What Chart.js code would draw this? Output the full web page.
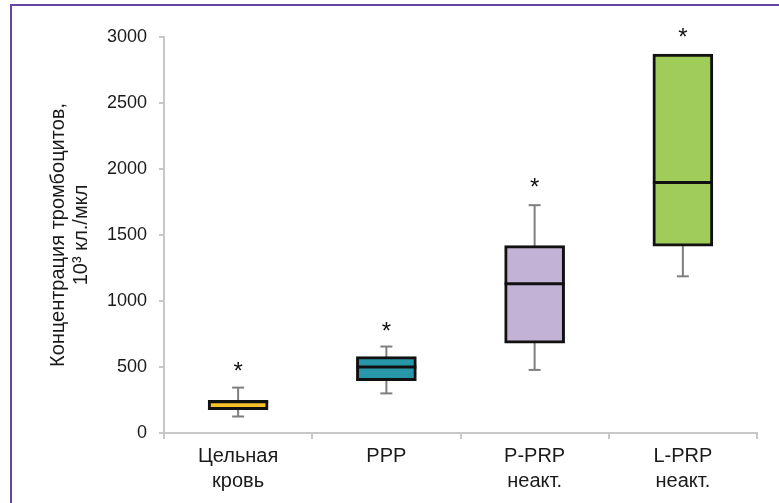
<!DOCTYPE html>
<html lang="ru">
<head>
    <meta charset="UTF-8">
    <title>Концентрация тромбоцитов</title>
    <script src="https://cdn.jsdelivr.net/npm/chart.js"></script>
    <style>
        body {
            margin: 0;
            padding: 0;
            background: #ffffff;
            font-family: "Liberation Sans", Arial, sans-serif;
        }
        .wrap {
            position: relative;
            width: 779px;
            height: 503px;
            overflow: hidden;
        }
        .frame {
            position: absolute;
            left: 10px;
            top: 4px;
            width: 780px;
            height: 520px;
            border-left: 2px solid #6b44a3;
            border-top: 2px solid #6b44a3;
            pointer-events: none;
        }
    </style>
</head>
<body>
<div class="wrap">
    <canvas id="boxChart" width="779" height="503"></canvas>
    <div class="frame"></div>
</div>

<script>
    // categories and box statistics
    const categories = [['Цельная', 'кровь'], 'PPP', ['P-PRP', 'неакт.'], ['L-PRP', 'неакт.']];
    const whiskerLow = [125, 300, 478, 1187];
    const q1 = [176, 396, 681, 1415];
    const median = [236, 500, 1131, 1898];
    const q3 = [248, 579, 1420, 2870];
    const whiskerHigh = [344, 655, 1726, 2870];
    const starLevel = [490, 790, 1883, 3020];
    const yTicks = [0, 500, 1000, 1500, 2000, 2500, 3000];
    const boxColors = ['#f6c22c', '#2897a9', '#c2b3d6', '#a0cd5a'];

    const boxes = categories.map((c, i) => [q1[i], q3[i]]);

    // whiskers behind the boxes, medians and stars on top
    const boxPlotExtras = {
        id: 'boxPlotExtras',
        beforeDatasetsDraw(chart) {
            const ctx = chart.ctx;
            const x = chart.scales.x, y = chart.scales.y;
            ctx.save();
            ctx.strokeStyle = '#7f7f7f';
            ctx.lineWidth = 2;
            categories.forEach((c, i) => {
                const cx = x.getPixelForValue(i);
                ctx.beginPath();
                ctx.moveTo(cx, y.getPixelForValue(whiskerLow[i]));
                ctx.lineTo(cx, y.getPixelForValue(whiskerHigh[i]));
                ctx.stroke();
                [whiskerLow[i], whiskerHigh[i]].forEach(v => {
                    if (v >= q1[i] && v <= q3[i]) return;
                    const py = y.getPixelForValue(v);
                    ctx.beginPath();
                    ctx.moveTo(cx - 6, py);
                    ctx.lineTo(cx + 6, py);
                    ctx.stroke();
                });
            });
            ctx.restore();
        },
        afterDatasetsDraw(chart) {
            const ctx = chart.ctx;
            const x = chart.scales.x, y = chart.scales.y;
            const meta = chart.getDatasetMeta(0);
            ctx.save();
            categories.forEach((c, i) => {
                const bar = meta.data[i];
                const half = bar.width / 2;
                const cx = x.getPixelForValue(i);
                const my = y.getPixelForValue(median[i]);
                ctx.strokeStyle = '#111111';
                ctx.lineWidth = 3;
                ctx.beginPath();
                ctx.moveTo(cx - half, my);
                ctx.lineTo(cx + half, my);
                ctx.stroke();

                ctx.fillStyle = '#111111';
                ctx.font = '24px "Liberation Sans", Arial, sans-serif';
                ctx.textAlign = 'center';
                ctx.textBaseline = 'middle';
                ctx.fillText('*', cx, y.getPixelForValue(starLevel[i]) + 4);
            });
            ctx.restore();
        }
    };

    function initializeChart() {
        const ctx = document.getElementById('boxChart').getContext('2d');
        new Chart(ctx, {
            type: 'bar',
            data: {
                labels: categories,
                datasets: [{
                    data: boxes,
                    backgroundColor: boxColors,
                    borderColor: '#111111',
                    borderWidth: 3,
                    borderSkipped: false,
                    barThickness: 60
                }]
            },
            options: {
                responsive: false,
                animation: false,
                layout: {
                    padding: { top: 37, right: 22, bottom: 0, left: 0 }
                },
                plugins: {
                    legend: { display: false },
                    tooltip: { enabled: false }
                },
                scales: {
                    x: {
                        grid: {
                            offset: true,
                            drawOnChartArea: false,
                            tickLength: 6,
                            color: '#c8c8c8',
                            lineWidth: 2
                        },
                        border: { color: '#c8c8c8', width: 2 },
                        ticks: {
                            color: '#1a1a1a',
                            padding: 5,
                            maxRotation: 0,
                            font: { family: '"Liberation Sans", Arial, sans-serif', size: 20, lineHeight: 1.25 }
                        },
                        afterFit(scale) { scale.height = 70; }
                    },
                    y: {
                        min: 0,
                        max: 3000,
                        afterBuildTicks(scale) {
                            scale.ticks = yTicks.map(v => ({ value: v }));
                        },
                        grid: {
                            drawOnChartArea: false,
                            tickLength: 5,
                            color: '#c8c8c8',
                            lineWidth: 2
                        },
                        border: { color: '#c8c8c8', width: 2 },
                        ticks: {
                            color: '#1a1a1a',
                            padding: 12,
                            callback: v => String(v),
                            font: { family: '"Liberation Sans", Arial, sans-serif', size: 18 }
                        },
                        title: {
                            display: true,
                            text: ['Концентрация тромбоцитов,', '10³ кл./мкл'],
                            color: '#1a1a1a',
                            padding: { top: 47, bottom: 0 },
                            font: { family: '"Liberation Sans", Arial, sans-serif', size: 20, lineHeight: 1.15 }
                        },
                        afterFit(scale) { scale.width = 164; }
                    }
                }
            },
            plugins: [boxPlotExtras]
        });
    }

    window.onload = initializeChart;
</script>
</body>
</html>
